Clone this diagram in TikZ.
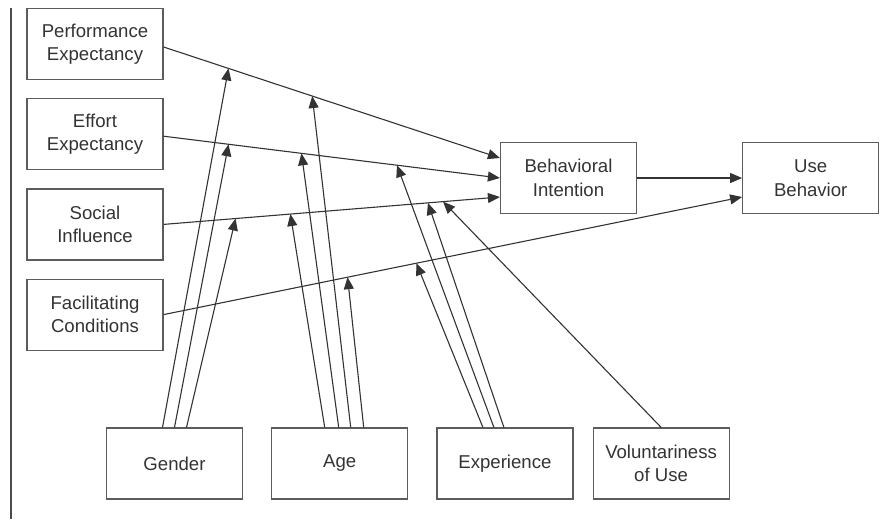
\documentclass[tikz,border=0pt]{standalone}
\usepackage{fontspec}
\setmainfont{Liberation Sans}
\usepackage[]{xcolor}
\usetikzlibrary{arrows.meta, positioning, calc}
\definecolor{linegray}{HTML}{333333}
\tikzstyle{construct} = [rectangle, draw=linegray!80, line width=0.6pt, minimum width=68pt, minimum height=35.5pt, inner sep=2pt, align=center, text=black!80, font=\fontsize{9.3pt}{11.7pt}\selectfont]
\tikzstyle{link} = [-{Triangle[length=6pt, width=5pt]}, draw=linegray, line width=0.55pt]

\begin{document}
\begin{tikzpicture}[x=0.5pt, y=-0.5pt, node distance=9pt]
		\useasboundingbox (0,0) rectangle (888,519);
		\draw[line width=0.8pt, black!70] (11,8) -- (11,519);
		
		% determinants
		\node [construct] (pe) at (95,44) {Performance\\Expectancy};
		\node [construct, below=of pe] (ee) {Effort\\Expectancy};
		\node [construct, below=of ee] (si) {Social\\Influence};
		\node [construct, below=of si] (fc) {Facilitating\\Conditions};
		
		\node [construct] (bi) at (568.5,178) {Behavioral\\Intention};
		\node [construct, right=52.5pt of bi] (ub) {Use\\Behavior};
		
		% moderators
		\node [construct] (gender) at (174.5,463.5) {Gender};
		\node [construct, right=14pt of gender] (age) {Age};
		\node [construct, right=14pt of age] (exp) {Experience};
		\node [construct, right=9.5pt of exp] (vol) {Voluntariness\\of Use};
		
		\draw[link] ($(pe.east)+(0,3)$) -- ($(bi.west)+(0,-20)$)
			coordinate[pos=0.193] (pe-gender) coordinate[pos=0.442] (pe-age);
		\draw[link] ($(ee.east)+(0,2)$) -- (bi.west)
			coordinate[pos=0.193] (ee-gender) coordinate[pos=0.41] (ee-age)
			coordinate[pos=0.694] (ee-exp);
		\draw[link] (si.east) -- ($(bi.west)+(0,19)$)
			coordinate[pos=0.214] (si-gender) coordinate[pos=0.377] (si-age)
			coordinate[pos=0.786] (si-exp) coordinate[pos=0.831] (si-vol);
		\draw[link] (fc.east) -- ($(ub.west)+(0,19)$)
			coordinate[pos=0.318] (fc-age) coordinate[pos=0.437] (fc-exp);
		\draw[link] (bi.east) -- (ub.west);
		
		\draw[link] ($(gender.north)+(-12,0)$) -- (pe-gender);
		\draw[link] (gender.north) -- (ee-gender);
		\draw[link] ($(gender.north)+(12,0)$) -- (si-gender);
		
		\draw[link] ($(age.north)+(-15,0)$) -- (si-age);
		\draw[link] ($(age.north)+(-1,0)$) -- (ee-age);
		\draw[link] ($(age.north)+(11,0)$) -- (pe-age);
		\draw[link] ($(age.north)+(24,0)$) -- (fc-age);
		
		\draw[link] ($(exp.north)+(-22,0)$) -- (fc-exp);
		\draw[link] ($(exp.north)+(-11,0)$) -- (ee-exp);
		\draw[link] ($(exp.north)+(-1,0)$) -- (si-exp);
		
		\draw[link] (vol.north) -- (si-vol);
		
	\end{tikzpicture}
\end{document}
